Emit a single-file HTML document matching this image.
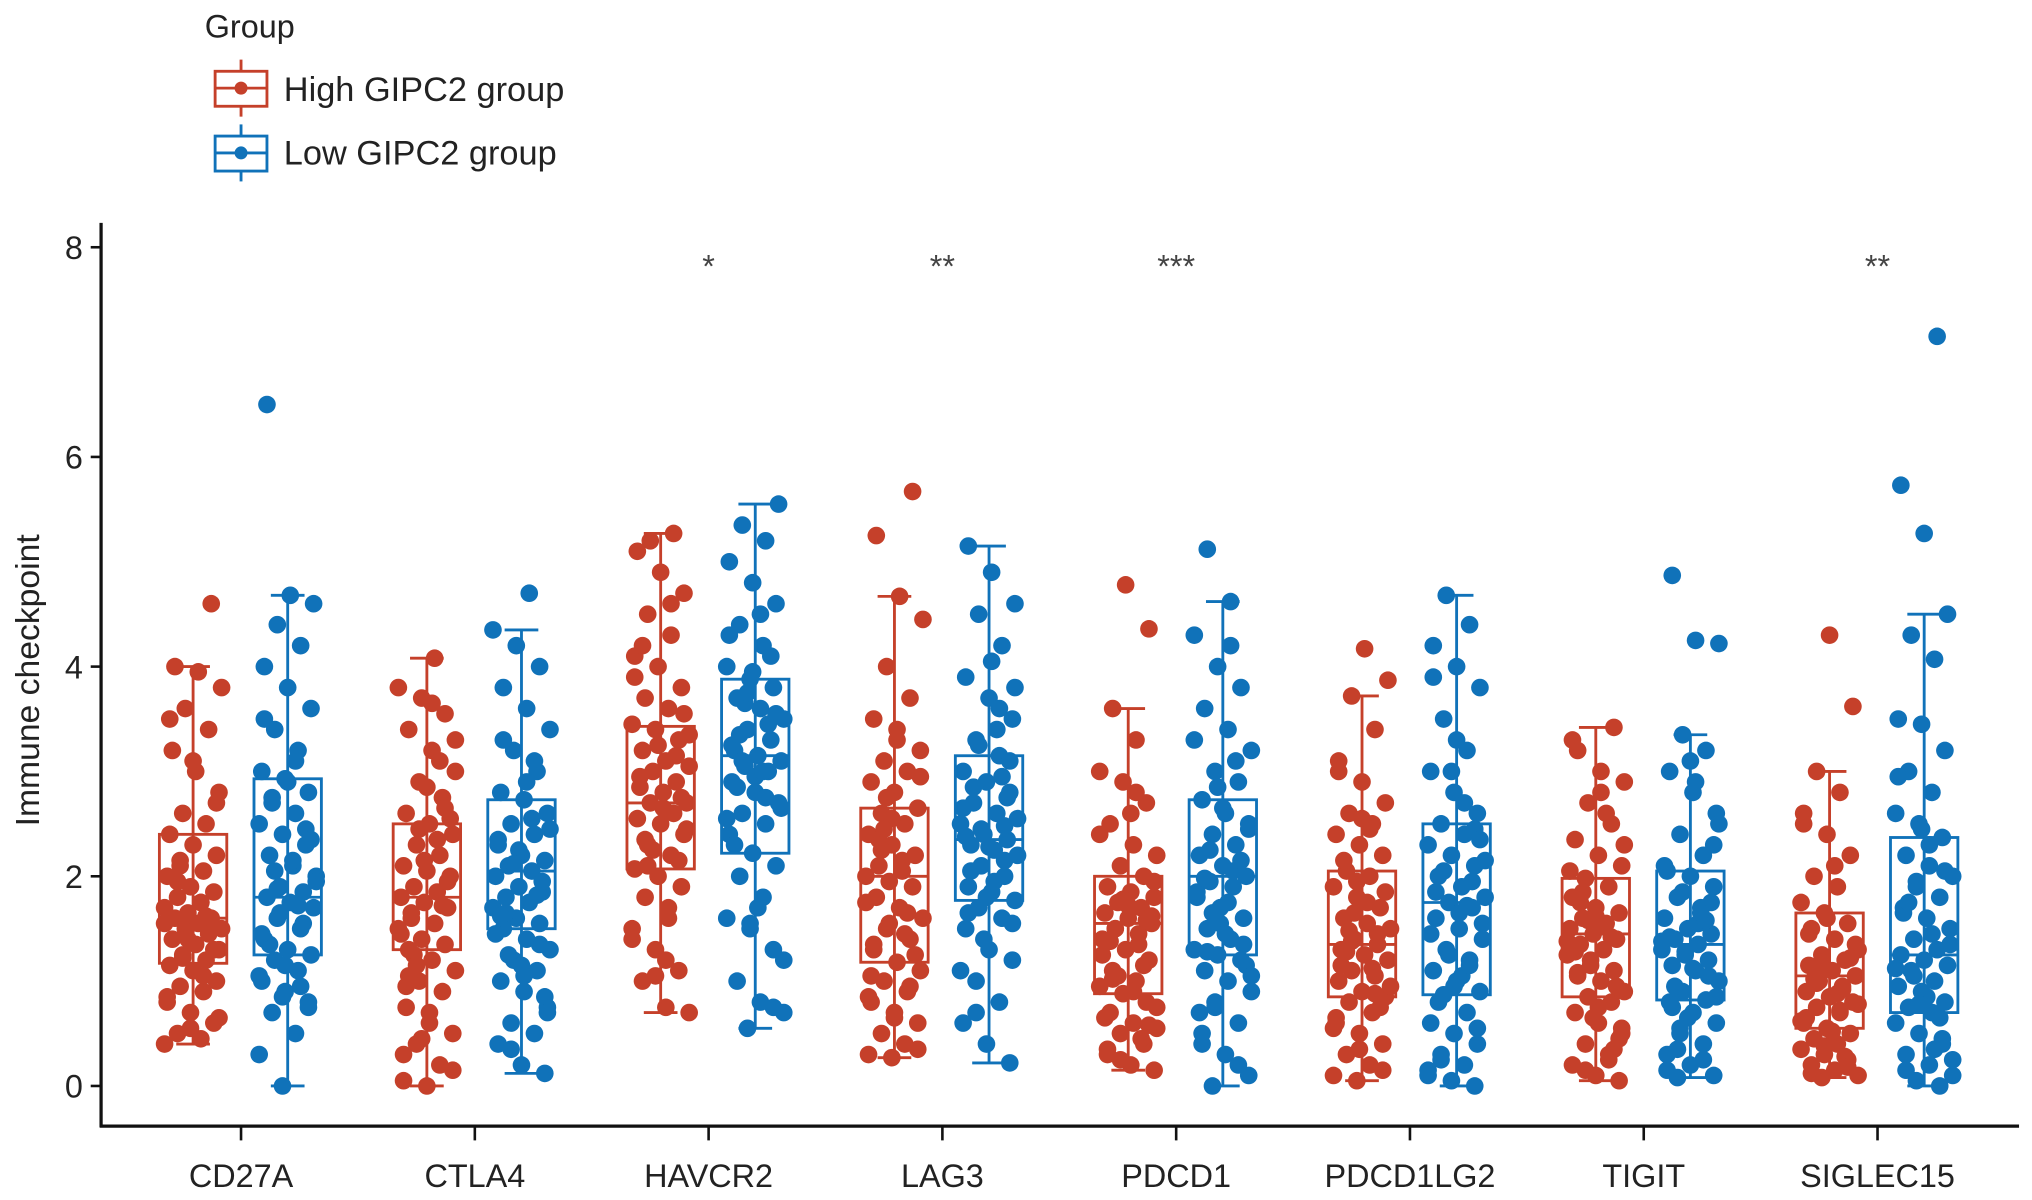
<!DOCTYPE html>
<html><head><meta charset="utf-8">
<style>
html,body{margin:0;padding:0;background:#fff;}
svg{display:block;}
text{font-family:"Liberation Sans",Arial,sans-serif;}
</style></head>
<body>
<svg id="chart" width="2032" height="1200" viewBox="0 0 1568 926" preserveAspectRatio="none" xmlns="http://www.w3.org/2000/svg">
  <g>
    <text x="158" y="29" font-size="25" fill="#222">Group</text>
    <g>
      <line x1="186" y1="46" x2="186" y2="90" stroke="#C5402A" stroke-width="2.2"/>
      <rect x="166" y="55" width="40" height="27" fill="#fff" stroke="#C5402A" stroke-width="2.2"/>
      <line x1="166" y1="68" x2="206" y2="68" stroke="#C5402A" stroke-width="2.2"/>
      <circle cx="186" cy="68" r="5" fill="#C5402A"/>
      <text x="219" y="78" font-size="26.5" fill="#222">High GIPC2 group</text>
    </g>
    <g>
      <line x1="186" y1="96" x2="186" y2="140" stroke="#1072B9" stroke-width="2.2"/>
      <rect x="166" y="105" width="40" height="27" fill="#fff" stroke="#1072B9" stroke-width="2.2"/>
      <line x1="166" y1="118" x2="206" y2="118" stroke="#1072B9" stroke-width="2.2"/>
      <circle cx="186" cy="118" r="5" fill="#1072B9"/>
      <text x="219" y="127" font-size="26.5" fill="#222">Low GIPC2 group</text>
    </g>
  </g>
  <text transform="translate(30,525) rotate(-90)" text-anchor="middle" font-size="26" fill="#222">Immune checkpoint</text>
  <g id="plot"></g>
  <line x1="78" y1="172" x2="78" y2="870" stroke="#111" stroke-width="2.5"/>
  <line x1="77" y1="869" x2="1558" y2="869" stroke="#111" stroke-width="2.5"/>
  <g id="axes"></g>
</svg>
<script>
const categories = ["CD27A","CTLA4","HAVCR2","LAG3","PDCD1","PDCD1LG2","TIGIT","SIGLEC15"];
const yTicks = [0,2,4,6,8];
const significance = ["","","*","**","***","","","**"];
// box stats [lowWhisker, q1, median, q3, highWhisker]
const highStats = [[0.4,1.17,1.6,2.4,4.0],[0,1.3,1.8,2.5,4.08],[0.7,2.07,2.7,3.43,5.27],[0.27,1.18,2.0,2.65,4.67],[0.15,0.88,1.55,2.0,3.6],[0.05,0.85,1.35,2.05,3.72],[0.05,0.85,1.45,1.98,3.42],[0.08,0.55,1.05,1.65,3.0]];
const lowStats = [[0,1.25,1.8,2.93,4.68],[0.12,1.5,2.05,2.73,4.35],[0.55,2.22,3.15,3.88,5.55],[0.22,1.77,2.35,3.15,5.15],[0,1.25,2.0,2.73,4.62],[0,0.87,1.75,2.5,4.68],[0.08,0.82,1.35,2.05,3.35],[0,0.7,1.25,2.37,4.5]];
const highPoints = [
[0.4,0.45,0.5,0.6,0.7,0.8,0.9,0.95,1.0,1.1,1.15,1.2,1.25,1.3,1.35,1.4,1.45,1.5,1.5,1.55,1.6,1.6,1.65,1.7,1.75,1.8,1.85,1.9,2.0,2.05,2.1,2.2,2.3,2.4,2.5,2.6,2.8,3.0,3.2,3.4,3.6,3.8,3.95,4.0,4.6,1.4,1.55,1.75,1.95,1.3,0.55,0.85,1.05,2.15,2.7,3.1,3.5,1.62,1.22,0.65],
[0,0.05,0.2,0.4,0.5,0.6,0.75,0.9,1.0,1.1,1.2,1.3,1.35,1.4,1.5,1.55,1.6,1.7,1.75,1.8,1.85,1.9,2.0,2.05,2.1,2.2,2.3,2.4,2.5,2.6,2.75,2.9,3.0,3.2,3.4,3.55,3.7,3.8,4.08,1.65,1.95,2.15,1.45,2.35,1.25,2.55,2.85,0.3,3.1,1.15,0.15,0.7,0.95,1.72,2.45,3.3,3.65,1.05,2.65,0.45],
[0.7,0.75,1.0,1.1,1.3,1.5,1.6,1.8,1.9,2.0,2.07,2.2,2.3,2.4,2.5,2.55,2.6,2.7,2.7,2.8,2.85,2.9,3.0,3.05,3.1,3.2,3.3,3.4,3.45,3.6,3.7,3.8,4.0,4.1,4.3,4.5,4.7,4.9,5.1,5.27,5.2,2.45,2.65,2.95,3.15,2.25,3.35,1.2,4.2,2.15,1.05,1.4,1.7,2.35,2.75,3.25,3.9,4.6,2.1,3.55],
[0.27,0.3,0.4,0.5,0.6,0.7,0.8,0.9,1.0,1.1,1.18,1.3,1.4,1.5,1.6,1.7,1.8,1.9,1.95,2.0,2.05,2.1,2.2,2.3,2.4,2.5,2.6,2.65,2.8,2.9,3.0,3.1,3.2,3.3,3.5,3.7,4.0,4.45,4.67,5.25,5.67,1.55,1.75,2.15,2.35,1.25,2.55,0.85,1.45,2.25,0.35,0.65,1.05,1.65,2.45,2.95,3.4,1.35,0.95,2.75],
[0.15,0.2,0.3,0.4,0.5,0.55,0.6,0.7,0.8,0.88,0.95,1.0,1.1,1.2,1.3,1.4,1.45,1.5,1.55,1.6,1.65,1.7,1.75,1.8,1.85,1.9,2.0,2.1,2.2,2.3,2.5,2.7,2.9,3.0,3.3,3.6,4.36,4.78,1.25,1.35,1.5,1.62,1.72,0.65,0.45,1.05,1.95,2.6,0.35,1.15,0.25,0.75,0.9,1.38,1.58,1.78,2.4,2.8,1.02,0.58],
[0.05,0.1,0.2,0.3,0.4,0.5,0.6,0.7,0.8,0.85,0.9,1.0,1.05,1.1,1.2,1.25,1.3,1.35,1.4,1.5,1.55,1.6,1.7,1.8,1.9,2.0,2.05,2.2,2.3,2.4,2.5,2.6,2.7,2.9,3.1,3.4,3.72,3.87,4.17,1.15,1.45,1.65,0.95,1.75,2.15,0.75,1.95,0.55,2.45,1.28,0.15,0.35,0.65,1.12,1.48,1.85,2.55,3.0,0.88,1.38],
[0.05,0.1,0.2,0.3,0.4,0.5,0.6,0.7,0.8,0.85,0.9,1.0,1.05,1.1,1.2,1.25,1.3,1.35,1.4,1.45,1.5,1.55,1.6,1.65,1.7,1.8,1.9,1.98,2.1,2.2,2.35,2.5,2.7,2.9,3.0,3.2,3.42,1.15,1.38,1.52,1.75,0.95,0.65,2.05,2.6,1.85,0.45,1.62,3.3,0.25,0.15,0.55,0.75,1.28,1.42,1.58,2.3,2.8,1.08,0.35],
[0.08,0.1,0.15,0.2,0.25,0.3,0.35,0.4,0.45,0.5,0.55,0.6,0.7,0.75,0.8,0.85,0.9,0.95,1.0,1.05,1.1,1.15,1.2,1.25,1.3,1.4,1.5,1.55,1.65,1.75,1.9,2.0,2.2,2.4,2.6,2.8,3.0,3.62,4.3,0.65,0.92,1.08,1.35,0.52,1.45,0.28,1.18,0.78,2.1,0.12,0.18,0.38,0.62,0.88,1.02,1.22,1.6,2.5,0.72,0.98]];
const lowPoints = [
[0,0.3,0.5,0.7,0.8,0.9,1.0,1.1,1.2,1.25,1.3,1.4,1.5,1.6,1.7,1.75,1.8,1.85,1.9,2.0,2.1,2.2,2.3,2.4,2.5,2.6,2.7,2.8,2.93,3.0,3.2,3.4,3.6,3.8,4.0,4.2,4.4,4.6,4.68,6.5,1.55,1.65,1.95,2.15,1.35,2.45,0.85,1.05,3.1,2.75,0.75,1.15,1.45,1.72,2.05,2.35,2.9,3.5,0.95,1.88],
[0.12,0.2,0.4,0.5,0.6,0.75,0.9,1.0,1.1,1.2,1.3,1.4,1.5,1.55,1.6,1.7,1.75,1.8,1.85,1.9,2.0,2.05,2.1,2.15,2.2,2.3,2.4,2.5,2.6,2.73,2.8,3.0,3.2,3.4,3.6,3.8,4.0,4.2,4.35,4.7,1.65,1.95,2.25,1.45,2.55,1.25,0.85,1.15,2.35,3.1,0.35,0.7,1.05,1.62,1.82,2.12,2.45,2.9,3.3,1.35],
[0.55,0.7,0.8,1.0,1.3,1.5,1.6,1.8,2.0,2.1,2.22,2.4,2.5,2.6,2.7,2.8,2.9,3.0,3.05,3.1,3.15,3.2,3.3,3.4,3.5,3.6,3.7,3.8,3.88,4.0,4.2,4.4,4.6,4.8,5.0,5.2,5.35,5.55,2.95,3.25,3.45,3.65,2.65,1.7,2.3,4.1,3.75,1.2,4.5,2.85,0.75,1.55,2.55,3.0,3.35,3.55,3.95,4.3,2.75,3.1],
[0.22,0.4,0.6,0.8,1.0,1.2,1.3,1.5,1.6,1.7,1.77,1.85,1.9,2.0,2.1,2.2,2.25,2.3,2.35,2.4,2.5,2.6,2.7,2.8,2.9,3.0,3.15,3.3,3.5,3.7,3.9,4.2,4.5,4.6,4.9,5.15,2.15,2.45,2.55,1.95,2.05,2.75,1.4,1.1,3.4,2.85,3.1,1.8,2.65,3.6,0.7,1.55,2.28,2.38,2.95,3.25,3.8,4.05,1.65,2.48],
[0,0.1,0.3,0.5,0.6,0.8,0.9,1.0,1.1,1.2,1.25,1.3,1.4,1.5,1.6,1.7,1.8,1.9,1.95,2.0,2.1,2.2,2.3,2.4,2.5,2.6,2.73,2.9,3.0,3.2,3.4,3.6,3.8,4.0,4.3,4.62,5.12,1.35,1.55,1.85,2.05,2.25,1.15,2.65,0.7,3.1,1.65,2.45,1.45,0.4,0.2,0.75,1.05,1.75,1.98,2.15,2.85,3.3,4.2,1.28],
[0,0.05,0.1,0.2,0.3,0.4,0.5,0.6,0.7,0.87,0.9,1.0,1.1,1.2,1.3,1.4,1.5,1.6,1.7,1.75,1.8,1.9,2.0,2.1,2.2,2.3,2.4,2.5,2.6,2.8,3.0,3.2,3.5,3.8,4.0,4.2,4.4,4.68,1.55,1.65,1.85,1.95,1.25,2.15,1.05,0.8,2.45,3.0,0.15,2.7,0.25,0.55,0.95,1.45,1.72,2.05,2.35,3.3,3.9,1.15],
[0.08,0.1,0.2,0.3,0.4,0.5,0.6,0.7,0.8,0.82,0.9,1.0,1.1,1.15,1.2,1.25,1.3,1.35,1.4,1.45,1.5,1.6,1.7,1.8,1.9,2.0,2.05,2.2,2.4,2.6,2.8,3.0,3.2,3.35,4.22,4.25,4.87,1.05,1.28,1.38,1.55,0.95,1.75,0.65,2.1,1.65,0.35,2.3,3.1,0.15,0.25,0.55,0.85,1.12,1.42,1.58,1.85,2.5,2.9,0.75],
[0,0.05,0.1,0.2,0.3,0.4,0.5,0.6,0.7,0.75,0.8,0.9,0.95,1.0,1.1,1.15,1.2,1.25,1.3,1.4,1.5,1.6,1.7,1.8,1.9,2.0,2.1,2.2,2.37,2.5,2.6,2.8,3.0,3.2,3.45,3.5,4.07,4.3,4.5,5.27,5.73,7.15,1.05,1.35,0.85,1.65,0.65,1.95,0.25,2.3,0.15,0.45,0.78,1.12,1.45,1.75,2.05,2.45,2.95,0.35]];

const NS = "http://www.w3.org/2000/svg";
const plot = document.getElementById("plot");
const axes = document.getElementById("axes");
const RED = "#C5402A", BLUE = "#1072B9";
function yScale(v){ return 838 - v * 80.9; }
function xScale(i){ return 186 + i * 180.4; }
function mk(tag, attrs, parent){
  const el = document.createElementNS(NS, tag);
  for (const k in attrs) el.setAttribute(k, attrs[k]);
  parent.appendChild(el);
  return el;
}
function drawBox(cx, s, color, name){
  const g = mk("g", {}, plot);
  
  
  const hw = 26;
  mk("line", {x1:cx, y1:yScale(s[4]), x2:cx, y2:yScale(s[0]), stroke:color, "stroke-width":2.2}, g);
  mk("line", {x1:cx-13, y1:yScale(s[4]), x2:cx+13, y2:yScale(s[4]), stroke:color, "stroke-width":2.2}, g);
  mk("line", {x1:cx-13, y1:yScale(s[0]), x2:cx+13, y2:yScale(s[0]), stroke:color, "stroke-width":2.2}, g);
  mk("rect", {x:cx-hw, y:yScale(s[3]), width:hw*2, height:yScale(s[1])-yScale(s[3]), fill:"none", stroke:color, "stroke-width":2.2}, g);
  mk("line", {x1:cx-hw, y1:yScale(s[2]), x2:cx+hw, y2:yScale(s[2]), stroke:color, "stroke-width":2.2}, g);
}
function drawPoints(cx, vals, color, name, seed){
  const g = mk("g", {}, plot);
  
  
  vals.forEach((v, i) => {
    const j = (((i * 37 + seed * 11) % 23) / 22 - 0.5) * 44;
    const c = mk("circle", {cx: cx + j, cy: yScale(v), r: 6.8, fill: color}, g);
    
    
  });
}
categories.forEach((cat, i) => {
  const xr = xScale(i) - 37, xb = xScale(i) + 36;
  drawBox(xr, highStats[i], RED, "box-high-" + cat.toLowerCase());
  drawBox(xb, lowStats[i], BLUE, "box-low-" + cat.toLowerCase());
  drawPoints(xr, highPoints[i], RED, "points-high-" + cat.toLowerCase(), i);
  drawPoints(xb, lowPoints[i], BLUE, "points-low-" + cat.toLowerCase(), i + 5);
  const t = mk("line", {x1:xScale(i), y1:869, x2:xScale(i), y2:880, stroke:"#111", "stroke-width":2}, axes);
  
  
  const lbl = mk("text", {x:xScale(i), y:916, "text-anchor":"middle", "font-size":25, fill:"#222"}, axes);
  
  
  lbl.textContent = cat;
  if (significance[i]) {
    const s = mk("text", {x:xScale(i), y:214, "text-anchor":"middle", "font-size":25, fill:"#444"}, axes);
    
    
    s.textContent = significance[i];
  }
});
yTicks.forEach(v => {
  const t = mk("line", {x1:70, y1:yScale(v), x2:78, y2:yScale(v), stroke:"#111", "stroke-width":2}, axes);
  
  
  const l = mk("text", {x:64, y:yScale(v)+9, "text-anchor":"end", "font-size":25, fill:"#222"}, axes);
  
  
  l.textContent = v;
});
</script>
</body></html>
